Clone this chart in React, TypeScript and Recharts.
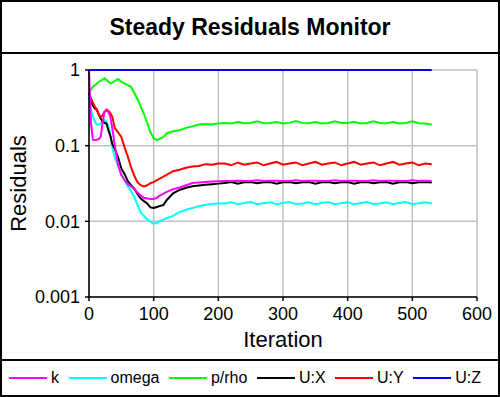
import { LineChart, Line, XAxis, YAxis, CartesianGrid } from 'recharts'

const iterations = [
  0, 3, 6, 9, 12, 15, 18, 21, 24, 27, 30, 33, 36,
  40, 45, 50, 55, 60, 65, 70, 75, 80, 85, 90, 95, 100, 105, 110, 115, 120,
  130, 140, 150, 160, 170, 180, 190, 200,
  210, 220, 230, 240, 250, 260, 270, 280, 290, 300, 310, 320, 330, 340, 350, 360, 370,
  380, 390, 400, 410, 420, 430, 440, 450, 460, 470, 480, 490, 500, 510, 520, 530,
]

const kValues = [
  1.0, 0.2, 0.12, 0.118, 0.12, 0.122, 0.13, 0.2, 0.28, 0.29, 0.28, 0.24, 0.17,
  0.1, 0.055, 0.041, 0.035, 0.031, 0.029, 0.027, 0.024, 0.022, 0.0205, 0.02, 0.0198, 0.0198, 0.0205, 0.022, 0.023, 0.0245,
  0.0265, 0.028, 0.03, 0.032, 0.0325, 0.033, 0.0335, 0.0338,
  0.034, 0.0342, 0.0345, 0.034, 0.0342, 0.0348, 0.034, 0.0343, 0.0345, 0.034, 0.0342, 0.0348,
  0.034, 0.0343, 0.0345, 0.034, 0.0342, 0.0348, 0.034, 0.0343, 0.0345, 0.034, 0.0342, 0.0348,
  0.034, 0.0343, 0.0345, 0.034, 0.0342, 0.0348, 0.034, 0.0343, 0.0342,
]

const omegaValues = [
  0.45, 0.3, 0.24, 0.21, 0.19, 0.19, 0.196, 0.21, 0.22, 0.207, 0.18, 0.14, 0.095,
  0.07, 0.055, 0.042, 0.035, 0.029, 0.025, 0.021, 0.0165, 0.013, 0.0118, 0.0106, 0.0099, 0.0093, 0.0095, 0.0102, 0.0105, 0.011,
  0.0118, 0.0132, 0.0142, 0.015, 0.0158, 0.0165, 0.017, 0.0172,
  0.0172, 0.0178, 0.0168, 0.0175, 0.018, 0.0168, 0.0174, 0.0178, 0.0168, 0.0175, 0.018, 0.0169,
  0.0172, 0.0178, 0.0168, 0.0175, 0.018, 0.0168, 0.0174, 0.0178, 0.0168, 0.0175, 0.018, 0.0169,
  0.0172, 0.0178, 0.0168, 0.0175, 0.018, 0.0168, 0.0174, 0.0178, 0.0172,
]

const pRhoValues = [
  0.5, 0.55, 0.6, 0.63, 0.66, 0.7, 0.72, 0.75, 0.78, 0.74, 0.7, 0.67, 0.68,
  0.72, 0.76, 0.7, 0.66, 0.63, 0.6, 0.5, 0.41, 0.33, 0.26, 0.2, 0.15, 0.125, 0.118, 0.124, 0.13, 0.145,
  0.155, 0.16, 0.172, 0.18, 0.19, 0.193, 0.19, 0.197,
  0.2, 0.197, 0.205, 0.198, 0.2, 0.21, 0.198, 0.2, 0.205, 0.196, 0.2, 0.212,
  0.2, 0.198, 0.205, 0.196, 0.2, 0.21, 0.199, 0.2, 0.207, 0.196, 0.2, 0.21,
  0.2, 0.198, 0.205, 0.196, 0.2, 0.21, 0.198, 0.196, 0.19,
]

const uxValues = [
  0.5, 0.4, 0.34, 0.31, 0.3, 0.26, 0.23, 0.21, 0.2, 0.196, 0.16, 0.135, 0.105,
  0.09, 0.07, 0.05, 0.042, 0.034, 0.03, 0.027, 0.023, 0.02, 0.0185, 0.0172, 0.0153, 0.015, 0.0155, 0.016, 0.0164, 0.019,
  0.0235, 0.026, 0.0278, 0.029, 0.0298, 0.0305, 0.031, 0.0315,
  0.032, 0.033, 0.0315, 0.0328, 0.033, 0.0318, 0.0328, 0.033, 0.0315, 0.0328, 0.033, 0.0318,
  0.0328, 0.033, 0.0315, 0.0328, 0.033, 0.0318, 0.0328, 0.033, 0.0315, 0.0328, 0.033, 0.0318,
  0.0328, 0.033, 0.0315, 0.0328, 0.033, 0.0318, 0.0328, 0.033, 0.0325,
]

const uyValues = [
  0.5, 0.42, 0.37, 0.33, 0.3, 0.26, 0.24, 0.25, 0.28, 0.3, 0.29, 0.27, 0.24,
  0.17, 0.15, 0.13, 0.095, 0.072, 0.052, 0.04, 0.033, 0.03, 0.029, 0.03, 0.032, 0.033, 0.035, 0.037, 0.039, 0.041,
  0.046, 0.048, 0.051, 0.053, 0.054, 0.057, 0.056, 0.058,
  0.058, 0.055, 0.06, 0.056, 0.058, 0.06, 0.055, 0.058, 0.061, 0.056, 0.058, 0.06,
  0.055, 0.058, 0.061, 0.056, 0.058, 0.06, 0.055, 0.058, 0.061, 0.056, 0.058, 0.06,
  0.055, 0.058, 0.061, 0.056, 0.058, 0.06, 0.055, 0.058, 0.057,
]

const uzValues = [
  1, 1, 1, 1, 1, 1, 1, 1, 1, 1, 1, 1, 1,
  1, 1, 1, 1, 1, 1, 1, 1, 1, 1, 1, 1, 1, 1, 1, 1, 1,
  1, 1, 1, 1, 1, 1, 1, 1,
  1, 1, 1, 1, 1, 1, 1, 1, 1, 1, 1, 1,
  1, 1, 1, 1, 1, 1, 1, 1, 1, 1, 1, 1,
  1, 1, 1, 1, 1, 1, 1, 1, 1,
]

const xTicks = [0, 100, 200, 300, 400, 500, 600]
const yTicks = [0.001, 0.01, 0.1, 1]
const yTickLabels = ['0.001', '0.01', '0.1', '1']

const series = [
  { key: 'k', name: 'k', color: '#ff00ff' },
  { key: 'omega', name: 'omega', color: '#00ffff' },
  { key: 'prho', name: 'p/rho', color: '#00ff00' },
  { key: 'ux', name: 'U:X', color: '#000000' },
  { key: 'uy', name: 'U:Y', color: '#ff0000' },
  { key: 'uz', name: 'U:Z', color: '#0000ff' },
]

// draw order so magenta sits over black, blue on top
const drawOrder = ['omega', 'prho', 'ux', 'uy', 'k', 'uz']

const data = iterations.map((it, i) => ({
  it,
  k: kValues[i],
  omega: omegaValues[i],
  prho: pRhoValues[i],
  ux: uxValues[i],
  uy: uyValues[i],
  uz: uzValues[i],
}))

const font = '"Liberation Sans", Arial, sans-serif'

const App = () => {
  return (
    <div style={{
      position: 'absolute',
      left: 0,
      top: 0,
      width: 500,
      height: 397,
      boxSizing: 'border-box',
      border: '2px solid #000',
      background: '#fff',
      fontFamily: font,
    }}>
      <div style={{
        height: 50,
        borderBottom: '2px solid #000',
        display: 'flex',
        alignItems: 'center',
        justifyContent: 'center',
        fontSize: 23,
        fontWeight: 'bold',
      }}>
        Steady Residuals Monitor
      </div>

      <LineChart
        width={496}
        height={305}
        data={data}
        margin={{ top: 16, right: 21, bottom: 0, left: 0 }}
      >
        <CartesianGrid stroke="#c0c0c0" strokeWidth={1.5} />
        <XAxis
          dataKey="it"
          type="number"
          domain={[0, 600]}
          ticks={xTicks}
          height={62}
          tickSize={4}
          tickMargin={6}
          stroke="#000"
          strokeWidth={1.5}
          tick={{ fill: '#000', fontSize: 18, fontFamily: font }}
          label={{
            content: (props: any) => {
              const vb = props.viewBox
              return (
                <text x={vb.x + vb.width / 2} y={vb.y + 42} textAnchor="middle" dominantBaseline="central"
                  fontSize={22} fontFamily={font} fill="#000">Iteration</text>
              )
            },
          }}
        />
        <YAxis
          scale="log"
          domain={[0.001, 1]}
          ticks={yTicks}
          width={87}
          tickSize={4}
          tickMargin={5}
          stroke="#000"
          strokeWidth={1.5}
          tick={{ fill: '#000', fontSize: 18, fontFamily: font }}
          tickFormatter={(v: number) => yTickLabels[yTicks.indexOf(v)] ?? String(v)}
          label={{
            content: (props: any) => {
              const vb = props.viewBox
              const cx = vb.x + 16
              const cy = vb.y + vb.height / 2
              return (
                <text x={cx} y={cy} textAnchor="middle" dominantBaseline="central"
                  transform={`rotate(-90 ${cx} ${cy})`}
                  fontSize={22} fontFamily={font} fill="#000">Residuals</text>
              )
            },
          }}
        />
        {drawOrder.map((key) => {
          const s = series.find((x) => x.key === key)!
          return (
            <Line
              key={key}
              type="linear"
              dataKey={key}
              name={s.name}
              stroke={s.color}
              strokeWidth={2}
              dot={false}
              isAnimationActive={false}
            />
          )
        })}
      </LineChart>

      <div style={{
        borderTop: '2px solid #000',
        height: 34,
        display: 'flex',
        alignItems: 'center',
        paddingLeft: 7,
        fontSize: 16,
      }}>
        {series.map((s) => (
          <div key={s.key} style={{ display: 'flex', alignItems: 'center', marginRight: 9.5 }}>
            <div style={{ width: 38, height: 2, background: s.color, marginRight: 4 }} />
            <span>{s.name}</span>
          </div>
        ))}
      </div>
    </div>
  )
}

export default App
